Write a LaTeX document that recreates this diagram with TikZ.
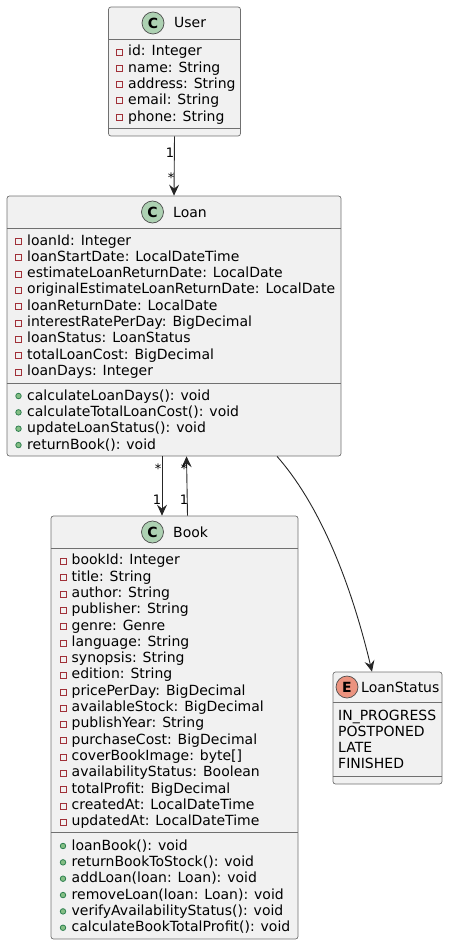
\documentclass[tikz,border=0pt]{standalone}
\usepackage{fontspec}
\setmainfont{DejaVu Sans}
\usetikzlibrary{arrows.meta,calc,positioning}
\definecolor{boxfill}{HTML}{F1F1F1}
\definecolor{boxline}{HTML}{707070}
\definecolor{privred}{HTML}{A03038}
\definecolor{pubgreen}{HTML}{2E8050}
\definecolor{pubfill}{HTML}{84BE84}
\definecolor{classgreen}{HTML}{ADD1B2}
\definecolor{enumred}{HTML}{EB937F}
\tikzset{
    >={Stealth[length=11pt,width=10pt,inset=4pt]},
    klasse/.style={
           draw=boxline,
           fill=boxfill,
           line width=0.7pt,
           rounded corners=2.5pt,
           inner sep=0pt},
    trenn/.style={
           draw=boxline,
           line width=0.7pt},
    badge/.style={
           circle,
           draw=black!70,
           line width=0.7pt,
           minimum size=22pt,
           inner sep=0pt,
           font=\fontsize{14}{14}\selectfont\bfseries},
    titel/.style={
           anchor=base west,
           inner sep=0pt,
           font=\fontsize{14}{14}\selectfont},
    zeile/.style={
           anchor=base west,
           inner sep=0pt,
           font=\fontsize{14}{14}\selectfont},
    privat/.style={
           rectangle,
           draw=privred,
           line width=0.8pt,
           minimum size=6pt,
           inner sep=0pt},
    offen/.style={
           circle,
           draw=pubgreen,
           fill=pubfill,
           line width=0.8pt,
           minimum size=5.5pt,
           inner sep=0pt},
    pil/.style={
           ->,
           black!85,
           line width=0.9pt},
    mult/.style={
           inner sep=0pt,
           font=\fontsize{13}{13}\selectfont}
}

\begin{document}
\begin{tikzpicture}[x=1pt,y=-1pt]
        \useasboundingbox (0,0) rectangle (448,944);

        % boxes
        \node[klasse, minimum width=132pt, minimum height=129pt] (user) at (174.5,71.5) {};
        \node[klasse, minimum width=334pt, minimum height=260pt] (loan) at (174,326) {};
        \node[klasse, minimum width=247pt, minimum height=423pt] (book) at (174.5,727.5) {};
        \node[klasse, minimum width=109pt, minimum height=112pt] (status) at (387.5,728) {};

        % separators
        \draw[trenn] (user.west |- 0,39) -- (user.east |- 0,39);
        \draw[trenn] (user.west |- 0,128) -- (user.east |- 0,128);
        \draw[trenn] (loan.west |- 0,228) -- (loan.east |- 0,228);
        \draw[trenn] (loan.west |- 0,383) -- (loan.east |- 0,383);
        \draw[trenn] (book.west |- 0,548) -- (book.east |- 0,548);
        \draw[trenn] (book.west |- 0,832.5) -- (book.east |- 0,832.5);
        \draw[trenn] (status.west |- 0,702) -- (status.east |- 0,702);
        \draw[trenn] (status.west |- 0,776) -- (status.east |- 0,776);

        % titles
        \node[badge, fill=classgreen] (userC) at (153,23) {C};
        \node[titel] (userT) at (174,28) {User};
        \node[badge, fill=classgreen] (loanC) at (152.5,212) {C};
        \node[titel] (loanT) at (173,217) {Loan};
        \node[badge, fill=classgreen] (bookC) at (152.5,532) {C};
        \node[titel] (bookT) at (173,537) {Book};
        \node[badge, fill=enumred] (statusE) at (347,687) {E};
        \node[titel] (statusT) at (361,692) {LoanStatus};

        % members
        \foreach \t [count=\i from 0] in {id: Integer, name: String, address: String, email: String, phone: String}{
            \node[privat] (ui\i) at (119.5,{52+16.3*\i}) {};
            \node[zeile] (u\i) at (128,{56+16.3*\i}) {\t};
        }
        \foreach \t [count=\i from 0] in {loanId: Integer, loanStartDate: LocalDateTime, estimateLoanReturnDate: LocalDate, originalEstimateLoanReturnDate: LocalDate, loanReturnDate: LocalDate, interestRatePerDay: BigDecimal, loanStatus: LoanStatus, totalLoanCost: BigDecimal, loanDays: Integer}{
            \node[privat] (li\i) at (18.5,{241.5+16.3*\i}) {};
            \node[zeile] (l\i) at (27,{245+16.3*\i}) {\t};
        }
        \foreach \t [count=\i from 0] in {calculateLoanDays(): void, calculateTotalLoanCost(): void, updateLoanStatus(): void, returnBook(): void}{
            \node[offen] (mi\i) at (18.5,{396+16.35*\i}) {};
            \node[zeile] (m\i) at (27,{400+16.35*\i}) {\t};
        }
        \foreach \t [count=\i from 0] in {bookId: Integer, title: String, author: String, publisher: String, genre: Genre, language: String, synopsis: String, edition: String, pricePerDay: BigDecimal, availableStock: BigDecimal, publishYear: String, purchaseCost: BigDecimal, coverBookImage: byte[], availabilityStatus: Boolean, totalProfit: BigDecimal, createdAt: LocalDateTime, updatedAt: LocalDateTime}{
            \node[privat] (bi\i) at (63,{561.5+16.3*\i}) {};
            \node[zeile] (b\i) at (71.5,{564.8+16.3*\i}) {\t};
        }
        \foreach \t [count=\i from 0] in {loanBook(): void, returnBookToStock(): void, addLoan(loan: Loan): void, removeLoan(loan: Loan): void, verifyAvailabilityStatus(): void, calculateBookTotalProfit(): void}{
            \node[offen] (ci\i) at (63,{846+16.35*\i}) {};
            \node[zeile] (c\i) at (71.5,{850+16.35*\i}) {\t};
        }
        \foreach \t [count=\i from 0] in {IN\_PROGRESS, POSTPONED, LATE, FINISHED}{
            \node[zeile] (s\i) at (338,{720+16.3*\i}) {\t};
        }

        % connectors
        \draw[pil] (user.south) -- (loan.north);
        \draw[pil] ([xshift=-12pt]loan.south) -- ([xshift=-12.5pt]book.north);
        \draw[pil] ([xshift=13pt]book.north) -- ([xshift=12.5pt]loan.south);
        \draw[pil] ([xshift=103pt]loan.south) .. controls (326,512) and (355,600) .. ([xshift=-15.5pt]status.north);

        % multiplicities
        \node[mult] (mu1) at (170,152.5) {1};
        \node[mult] (mu2) at (171,178) {*};
        \node[mult] (mu3) at (158,469) {*};
        \node[mult] (mu4) at (157,500) {1};
        \node[mult] (mu5) at (184,469) {*};
        \node[mult] (mu6) at (184,500) {1};
\end{tikzpicture}
\end{document}
